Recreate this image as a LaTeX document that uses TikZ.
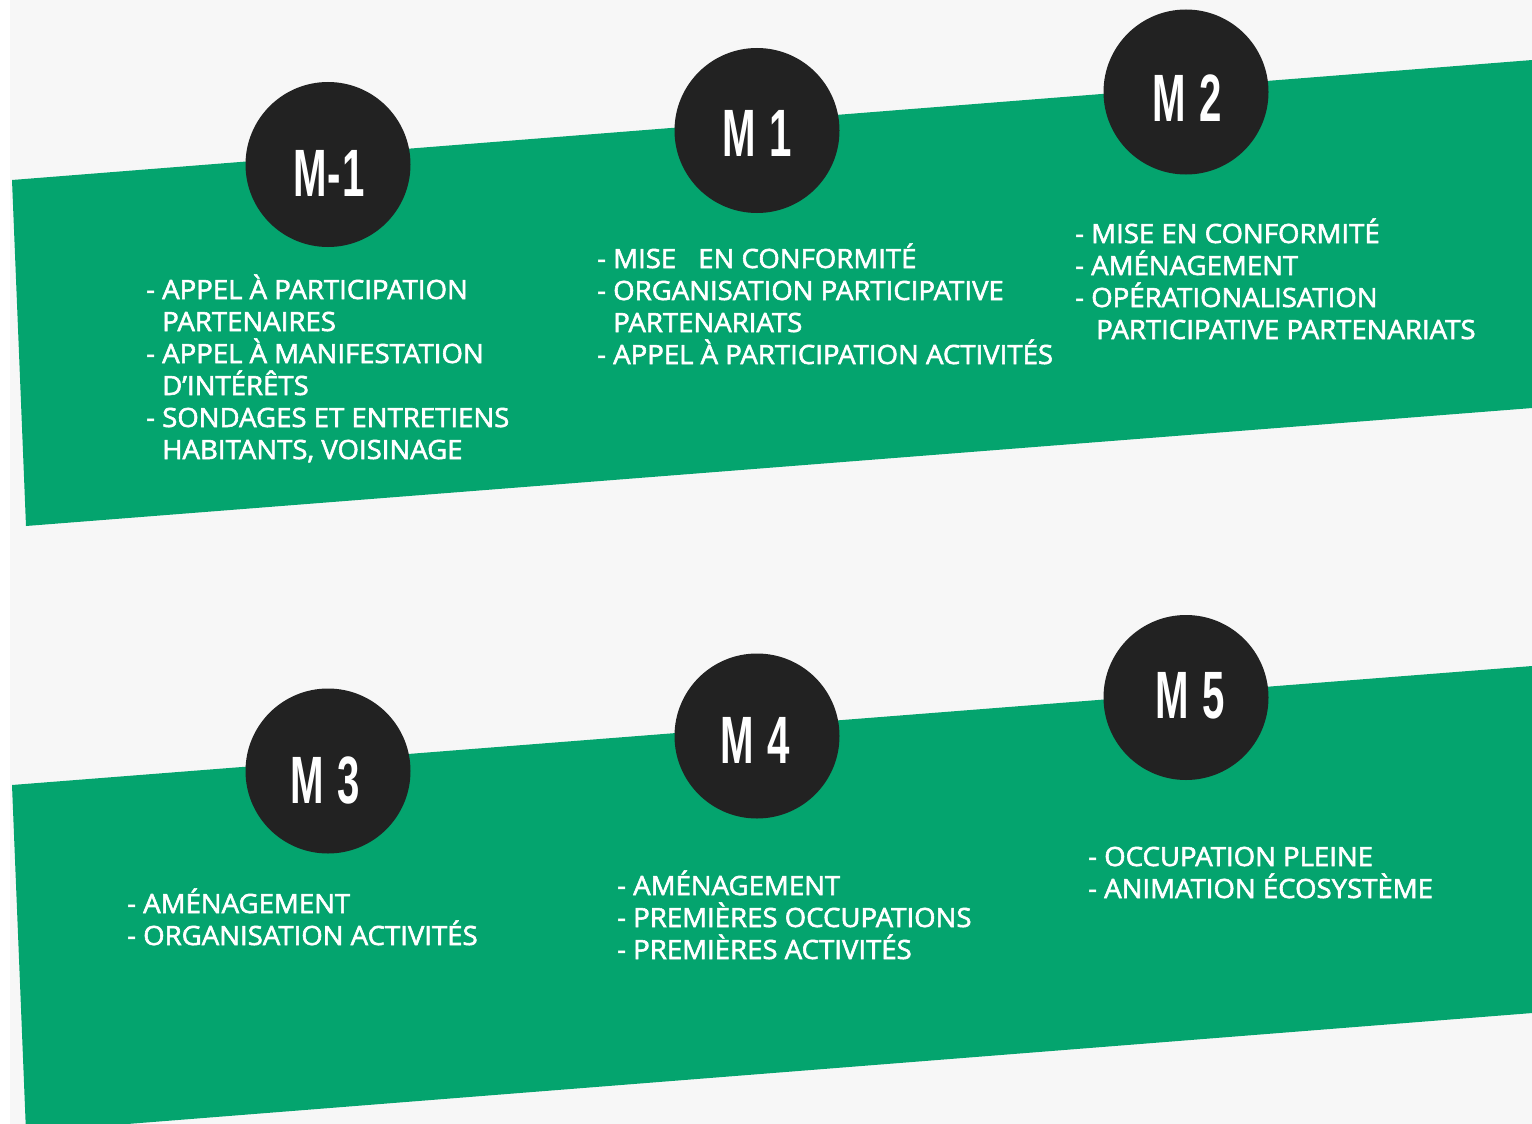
\documentclass[tikz,border=0pt]{standalone}
\usepackage{fontspec}
\setmainfont{Open Sans}
\newfontfamily\bodyfont{Open Sans}[FakeBold=2.2,FakeStretch=1.04]
\newfontfamily\capfont{Liberation Sans}
\definecolor{bandgreen}{HTML}{04A46E}
\definecolor{paper}{HTML}{F7F7F7}
\definecolor{disc}{HTML}{222222}
\newcommand{\ind}{\hphantom{-\ }}
\newcommand{\mgap}{\hspace{0.33em}}
\begin{document}
\begin{tikzpicture}[x=1pt,y=-1pt,
  mcirc/.style={circle,fill=disc,draw=none,minimum size=165pt,inner sep=0pt},
  mlabel/.style={text=white,inner sep=0pt,anchor=center,font=\capfont\bfseries\fontsize{67}{67}\selectfont},
  itemlist/.style={text=white,inner sep=0pt,anchor=base west,font=\bodyfont\fontsize{26.5}{32}\selectfont}]
\useasboundingbox (0,0) rectangle (1532,1124);
\fill[white] (0,0) rectangle (1532,1124);
\fill[paper] (10,0) rectangle (1532,1124);
\begin{scope}
\clip (0,0) rectangle (1532,1124);
\fill[bandgreen] (12,180) -- (1540,59.4) -- (1540,407.4) -- (26,526) -- cycle;
\fill[bandgreen] (12,785) -- (1540,665.4) -- (1540,1012.4) -- (26,1132) -- cycle;
\end{scope}
% discs
\node[mcirc] (c0) at (328,164.5) {};
\node[mcirc] (c1) at (757,130.5) {};
\node[mcirc] (c2) at (1186,92) {};
\node[mcirc] (c3) at (328,771) {};
\node[mcirc] (c4) at (757,736) {};
\node[mcirc] (c5) at (1186,697.5) {};
\node[mlabel] (t0) at (329,173) {\scalebox{0.6}[1]{M\hspace{2pt}-\hspace{2pt}1}};
\node[mlabel] (t1) at (757.5,133.5) {\scalebox{0.6}[1]{M\mgap1}};
\node[mlabel] (t2) at (1187,98) {\scalebox{0.6}[1]{M\mgap2}};
\node[mlabel] (t3) at (325.5,780.5) {\scalebox{0.6}[1]{M\mgap3}};
\node[mlabel] (t4) at (755,740) {\scalebox{0.6}[1]{M\mgap4}};
\node[mlabel] (t5) at (1190,696) {\scalebox{0.6}[1]{M\mgap5}};
% lists
\node[itemlist] (l0) at (146,299) {\vtop{%
  \hbox{- APPEL À PARTICIPATION}
  \hbox{\ind PARTENAIRES}
  \hbox{- APPEL À MANIFESTATION}
  \hbox{\ind D’INTÉRÊTS}
  \hbox{- SONDAGES ET ENTRETIENS}
  \hbox{\ind HABITANTS, VOISINAGE}}};
\node[itemlist] (l1) at (597,268) {\vtop{%
  \hbox{- MISE\hspace{22pt}EN CONFORMITÉ}
  \hbox{- ORGANISATION PARTICIPATIVE}
  \hbox{\ind PARTENARIATS}
  \hbox{- APPEL À PARTICIPATION ACTIVITÉS}}};
\node[itemlist] (l2) at (1075,243) {\vtop{%
  \hbox{- MISE EN CONFORMITÉ}
  \hbox{- AMÉNAGEMENT}
  \hbox{- OPÉRATIONALISATION}
  \hbox{\ind\hspace{5pt}PARTICIPATIVE PARTENARIATS}}};
\node[itemlist] (l3) at (127,913) {\vtop{%
  \hbox{- AMÉNAGEMENT}
  \hbox{- ORGANISATION ACTIVITÉS}}};
\node[itemlist] (l4) at (617,895) {\vtop{%
  \hbox{- AMÉNAGEMENT}
  \hbox{- PREMIÈRES OCCUPATIONS}
  \hbox{- PREMIÈRES ACTIVITÉS}}};
\node[itemlist] (l5) at (1088,866) {\vtop{%
  \hbox{- OCCUPATION PLEINE}
  \hbox{- ANIMATION ÉCOSYSTÈME}}};
\end{tikzpicture}
\end{document}
